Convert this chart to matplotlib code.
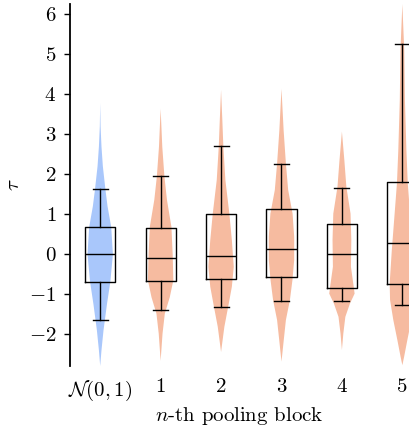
import matplotlib
matplotlib.use("Agg")
import matplotlib.pyplot as plt

# Computer Modern look
plt.rcParams["font.family"] = "serif"
plt.rcParams["font.serif"] = ["cmr10"]
plt.rcParams["mathtext.fontset"] = "cm"
plt.rcParams["axes.formatter.use_mathtext"] = True
plt.rcParams["font.size"] = 15

labels = [r"$\mathcal{N}(0,1)$", "1", "2", "3", "4", "5"]

# box statistics per group: (whislo, q1, med, q3, whishi)
whislo = [-1.63, -1.39, -1.31, -1.16, -1.16, -1.27]
q1 = [-0.68, -0.66, -0.62, -0.56, -0.85, -0.74]
med = [0.0, -0.09, -0.05, 0.14, 0.02, 0.29]
q3 = [0.68, 0.67, 1.01, 1.14, 0.77, 1.82]
whishi = [1.63, 1.96, 2.72, 2.27, 1.67, 5.25]

# density profiles (tau, relative density) per group
dens_y = [
    [-2.79, -2.4, -1.9, -1.25, -0.68, 0.0, 0.68, 1.2, 1.6, 2.2, 2.7, 3.2, 3.78],
    [-2.66, -1.98, -1.48, -1.07, -0.65, 0.0, 0.69, 1.36, 1.94, 2.69, 3.64],
    [-2.44, -1.81, -1.31, -0.81, -0.31, 0.36, 1.03, 1.86, 2.7, 3.36, 4.11],
    [-2.68, -2.14, -1.64, -1.14, -0.64, -0.14, 0.44, 1.02, 1.61, 2.27, 3.1, 4.14],
    [-2.39, -1.98, -1.56, -1.23, -0.98, -0.81, -0.31, 0.36, 1.02, 1.69, 2.36, 3.07],
    [-2.77, -2.56, -2.14, -1.64, -1.14, -0.73, 0.11, 0.94, 1.78, 2.6, 3.86, 5.1, 6.26],
]
dens_v = [
    [0.0, 0.1, 0.26, 0.53, 0.8, 1.0, 0.87, 0.58, 0.42, 0.21, 0.1, 0.03, 0.0],
    [0.0, 0.15, 0.33, 0.72, 1.0, 0.95, 0.85, 0.5, 0.3, 0.13, 0.0],
    [0.0, 0.26, 0.56, 0.85, 1.0, 0.85, 0.65, 0.34, 0.18, 0.1, 0.0],
    [0.0, 0.17, 0.33, 0.63, 0.82, 0.95, 0.95, 0.83, 0.5, 0.33, 0.16, 0.0],
    [0.0, 0.11, 0.27, 0.63, 1.0, 0.93, 0.71, 0.74, 0.68, 0.35, 0.19, 0.0],
    [0.0, 0.13, 0.37, 0.67, 0.91, 0.94, 0.78, 0.59, 0.4, 0.3, 0.19, 0.14, 0.0],
]

colors = ["#a9c7fb"] + ["#f6bba0"] * 5
positions = list(range(len(labels)))

fig = plt.figure(figsize=(4.09, 4.32), dpi=100)
ax = fig.add_axes([69.5 / 409, 66 / 432, (409 - 69.5) / 409, 362 / 432])

vpstats = []
for i in positions:
    vpstats.append({
        "coords": dens_y[i], "vals": dens_v[i],
        "mean": med[i], "median": med[i],
        "min": dens_y[i][0], "max": dens_y[i][-1],
    })
parts = ax.violin(vpstats, positions=positions, widths=0.42,
                  showextrema=False, showmeans=False, showmedians=False)
for body, c in zip(parts["bodies"], colors):
    body.set_facecolor(c)
    body.set_edgecolor("none")
    body.set_alpha(1)

bstats = []
for i in positions:
    bstats.append({"whislo": whislo[i], "q1": q1[i], "med": med[i],
                   "q3": q3[i], "whishi": whishi[i], "fliers": []})
ax.bxp(bstats, positions=positions, widths=0.5, showfliers=False,
       boxprops=dict(color="black", linewidth=1.0),
       whiskerprops=dict(color="black", linewidth=1.0),
       capprops=dict(color="black", linewidth=1.0),
       medianprops=dict(color="black", linewidth=1.0))

ax.set_xlim(-0.508, 5.11)
ax.set_ylim(-2.79, 6.26)
ax.set_yticks(range(-2, 7))
ax.set_xticks(positions)
ax.set_xticklabels(labels)
ax.tick_params(axis="x", length=0, pad=9)
ax.tick_params(axis="y", length=4.5, width=1.0, pad=5)

for s in ["top", "right", "bottom"]:
    ax.spines[s].set_visible(False)
ax.spines["left"].set_linewidth(1.3)

ax.set_xlabel(r"$n$-th pooling block", labelpad=2)
ax.set_ylabel(r"$\tau$", labelpad=4)

fig.savefig("out.png", dpi=100)
